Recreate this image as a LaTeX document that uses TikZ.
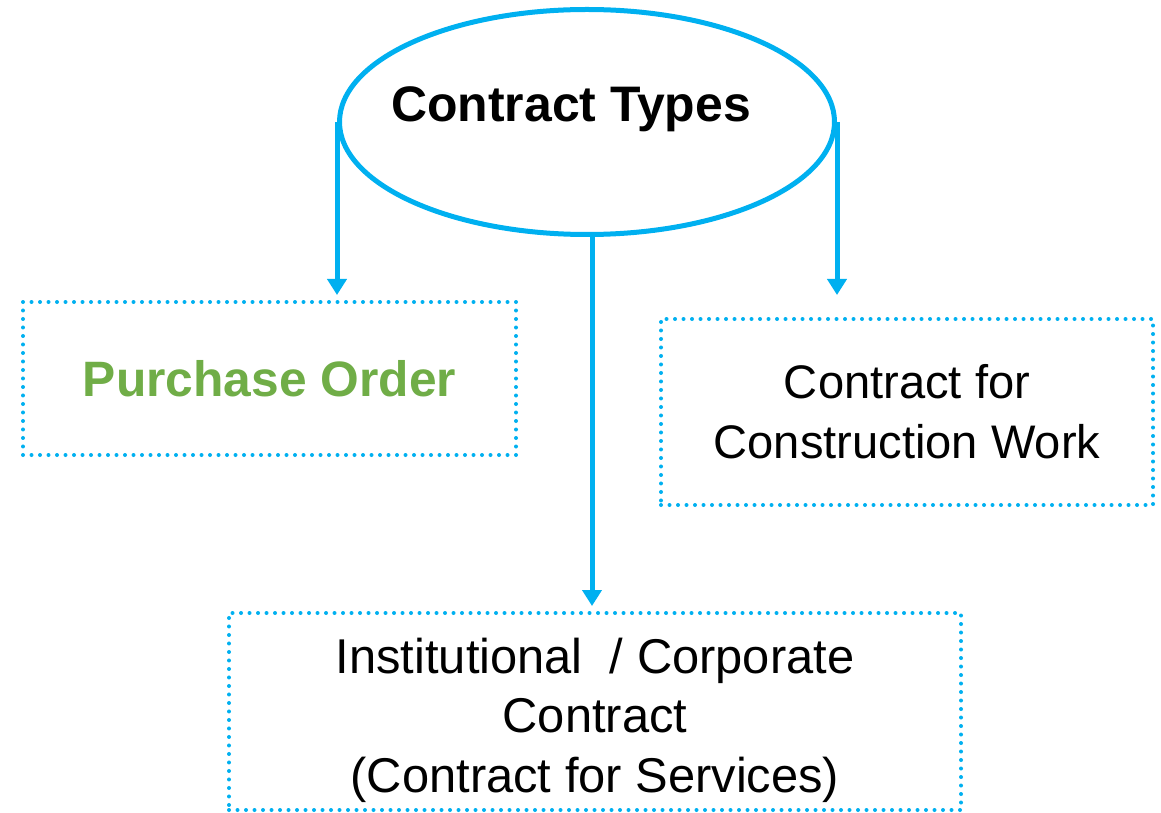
\documentclass[tikz,border=0pt]{standalone}
\usepackage{fontspec}
\setmainfont{Liberation Sans}
\usepackage{tikz}
\usetikzlibrary{arrows.meta,shapes.geometric}

\definecolor{skyblue}{HTML}{00B0F0}
\definecolor{leafgreen}{HTML}{70AD47}

\begin{document}
\begin{tikzpicture}[>={Triangle[length=0.32cm,width=0.38cm]},
			link/.style={->,draw=skyblue,line width=0.1cm,shorten >=0.1cm},
			type node/.style={ellipse,draw=skyblue,line width=0.1cm,inner sep=0pt,
				minimum width=9.9cm,minimum height=4.5cm,text height=0.5cm,text depth=0.5cm,
				font=\fontsize{28.4}{34}\selectfont\bfseries},
			kind box/.style={rectangle,draw=skyblue,line width=0.08cm,line cap=round,
				dash pattern=on 0pt off 0.17cm,align=center,inner sep=0pt,
				font=\fontsize{26.8}{34}\selectfont}];
			
			\useasboundingbox (0,0) rectangle (23.22,-16.26);
			
			\node[type node] (types) at (11.74,-2.44) {\makebox[0pt]{Contract Types\hspace*{0.64cm}}};
			\node[kind box,minimum width=9.86cm,minimum height=3.06cm,
				text=leafgreen,font=\fontsize{28.3}{34}\selectfont\bfseries] (po) at (5.39,-7.57) {Purchase Order};
			\node[kind box,minimum width=9.84cm,minimum height=3.72cm] (cw) at (18.14,-8.24)
				{Contract for\\Construction Work};
			\node[kind box,minimum width=14.64cm,minimum height=3.94cm,text height=3.22cm,text depth=0cm,
				font=\fontsize{27.8}{33.8}\selectfont] (ic) at (11.9,-14.23)
				{Institutional~ / Corporate\\Contract\\(Contract for Services)};
			
			\draw[link] (types.west) -- (types.west |- po.north);
			\draw[link] (types.east) -- (types.east |- po.north);
			\draw[link] ([xshift=0.1cm]types.south) -- ([xshift=0.1cm]types.south |- ic.north);
			
			\end{tikzpicture}
\end{document}
